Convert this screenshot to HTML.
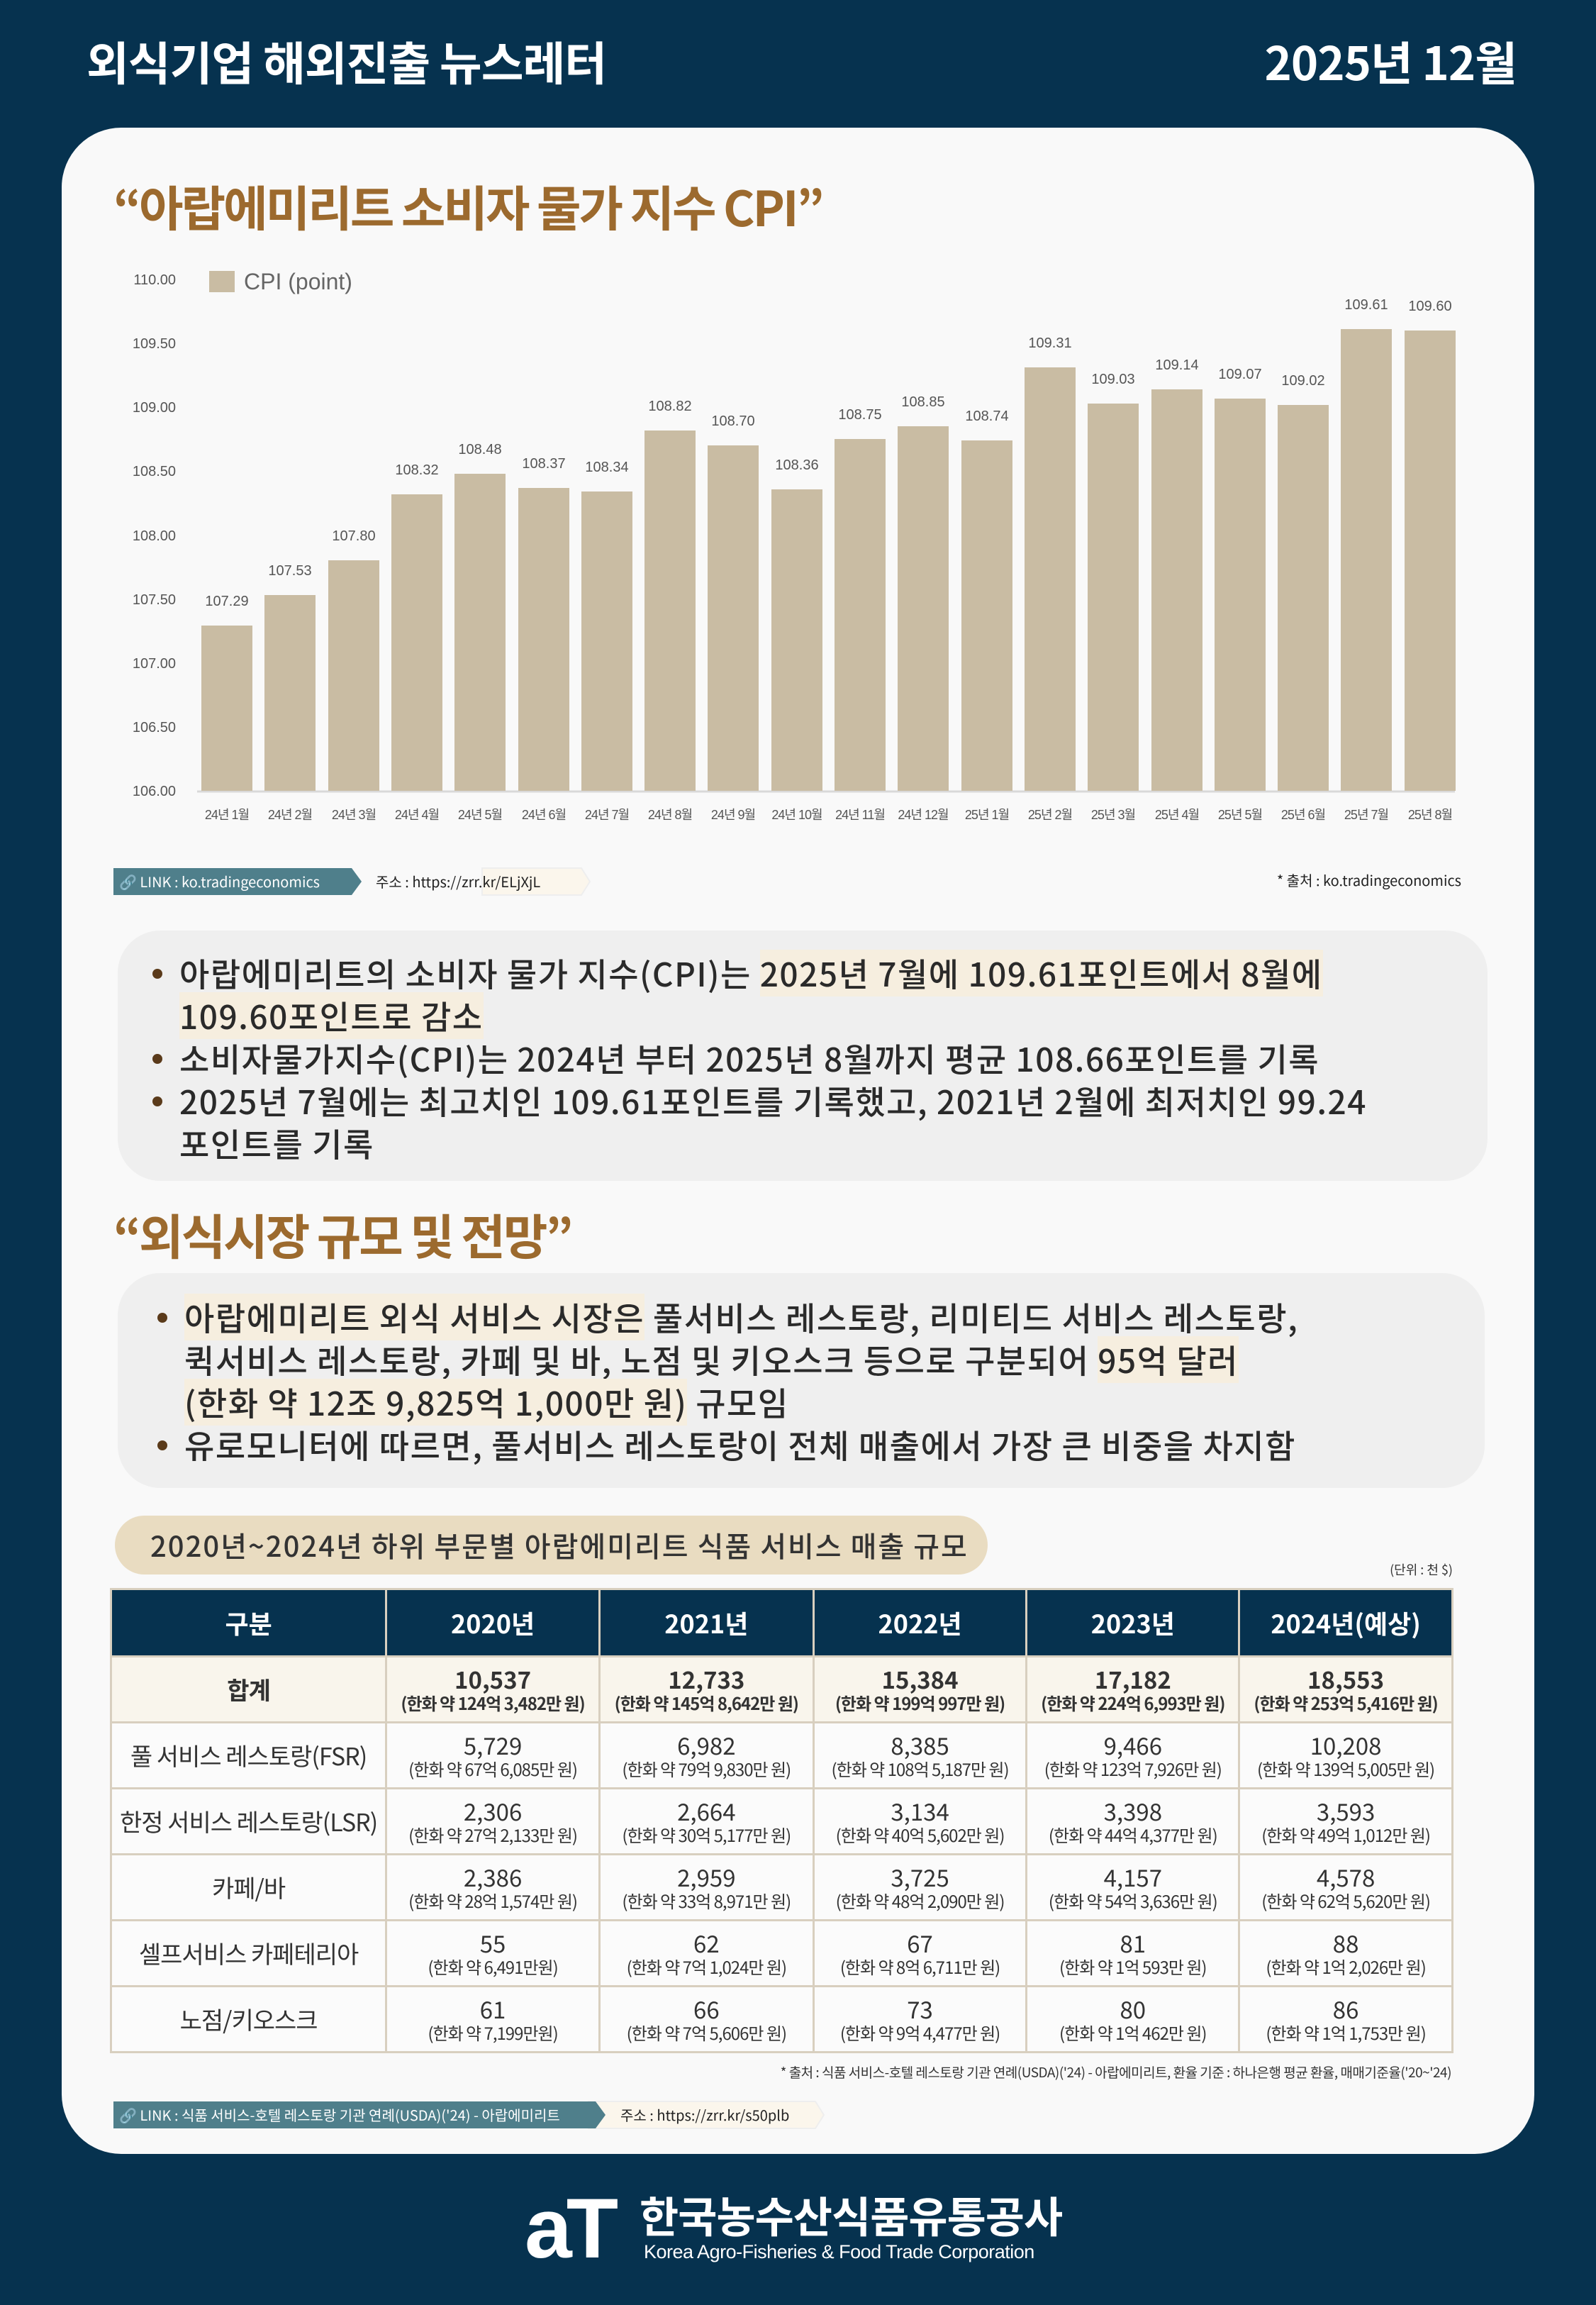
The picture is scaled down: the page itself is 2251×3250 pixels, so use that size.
<!DOCTYPE html>
<html><head><meta charset="utf-8">
<style>
*{margin:0;padding:0;box-sizing:border-box}
body{width:2251px;height:3250px;background:#06324f;font-family:"Liberation Sans","Noto Sans CJK KR",sans-serif;position:relative;overflow:hidden}
.abs{position:absolute}
.hdr{color:#fff;font-size:65px;font-weight:bold;top:38px;letter-spacing:-1px;font-family:"Noto Sans CJK KR",sans-serif}
.card{left:87px;top:180px;width:2077px;height:2857px;background:#f9f9f9;border-radius:84px}
.ttl{color:#9c6a2e;font-size:68px;font-weight:bold;font-family:"Noto Sans CJK KR",sans-serif;letter-spacing:-3px;white-space:nowrap}
.box{background:#efefef;border-radius:60px}
.bl{font-family:"Noto Sans CJK KR",sans-serif;font-size:46px;color:#2a2a2a;letter-spacing:1.5px;white-space:nowrap;line-height:60px;font-weight:500}
.bl .d{position:absolute;left:-38px;width:14px;height:14px;border-radius:50%;background:#5a3a1a;margin-top:24px}
.hl{background:#f6eedf}
.link{height:38px;font-size:20px;font-family:"Noto Sans CJK KR",sans-serif;white-space:nowrap;line-height:38px}
table{border-collapse:collapse;position:absolute;left:155px;top:2239px;width:1895px;font-family:"Noto Sans CJK KR",sans-serif;text-align:center}
td,th{border:3px solid #d8cfbf;padding:0}
th{background:#06324f;color:#fff;font-size:36px;height:95px;font-weight:bold;border-color:#d8cfbf}
td{height:93px;color:#333;font-size:33px;line-height:38px;background:#fbfbfb}
td small{display:block;font-size:24px;line-height:30px;letter-spacing:-1px;white-space:nowrap}
tr.sum td{background:#f9f5ec;font-weight:bold}
tr.sum td small{font-weight:bold}
td.lab{font-size:34px;letter-spacing:-1px}
</style></head><body>
<div class="abs hdr" style="left:122px">외식기업 해외진출 뉴스레터</div>
<div class="abs hdr" style="right:112px">2025년 12월</div>
<div class="abs card"></div>
<div class="abs ttl" style="left:160px;top:240px">“아랍에미리트 소비자 물가 지수 CPI”</div>

<svg class="abs" style="left:0;top:0" width="2251" height="1200" font-family="Liberation Sans, Noto Sans CJK KR, sans-serif">
<g font-size="20" fill="#555" text-anchor="end">
<text x="248" y="401">110.00</text><text x="248" y="491">109.50</text><text x="248" y="581">109.00</text><text x="248" y="671">108.50</text><text x="248" y="762">108.00</text><text x="248" y="852">107.50</text><text x="248" y="942">107.00</text><text x="248" y="1032">106.50</text><text x="248" y="1122">106.00</text>
</g>
<rect x="295" y="382" width="36" height="30" fill="#c9bca3"/>
<text x="344" y="408" font-size="32" fill="#666">CPI (point)</text>
<line x1="278" y1="1116" x2="2052" y2="1116" stroke="#d9d9d9" stroke-width="3"/>
<g fill="#c9bca3">
<rect x="284" y="882" width="72" height="233"/><rect x="373" y="839" width="72" height="276"/><rect x="463" y="790" width="72" height="325"/><rect x="552" y="697" width="72" height="418"/><rect x="641" y="668" width="72" height="447"/><rect x="731" y="688" width="72" height="427"/><rect x="820" y="693" width="72" height="422"/><rect x="909" y="607" width="72" height="508"/><rect x="998" y="628" width="72" height="487"/><rect x="1088" y="690" width="72" height="425"/><rect x="1177" y="619" width="72" height="496"/><rect x="1266" y="601" width="72" height="514"/><rect x="1356" y="621" width="72" height="494"/><rect x="1445" y="518" width="72" height="597"/><rect x="1534" y="569" width="72" height="546"/><rect x="1624" y="549" width="72" height="566"/><rect x="1713" y="562" width="72" height="553"/><rect x="1802" y="571" width="72" height="544"/><rect x="1891" y="464" width="72" height="651"/><rect x="1981" y="466" width="72" height="649"/>
</g>
<g font-size="20" fill="#555" text-anchor="middle">
<text x="320" y="854">107.29</text><text x="409" y="811">107.53</text><text x="499" y="762">107.80</text><text x="588" y="669">108.32</text><text x="677" y="640">108.48</text><text x="767" y="660">108.37</text><text x="856" y="665">108.34</text><text x="945" y="579">108.82</text><text x="1034" y="600">108.70</text><text x="1124" y="662">108.36</text><text x="1213" y="591">108.75</text><text x="1302" y="573">108.85</text><text x="1392" y="593">108.74</text><text x="1481" y="490">109.31</text><text x="1570" y="541">109.03</text><text x="1660" y="521">109.14</text><text x="1749" y="534">109.07</text><text x="1838" y="543">109.02</text><text x="1927" y="436">109.61</text><text x="2017" y="438">109.60</text>
</g>
<g font-size="18" fill="#555" text-anchor="middle" letter-spacing="-1">
<text x="320" y="1155">24년 1월</text><text x="409" y="1155">24년 2월</text><text x="499" y="1155">24년 3월</text><text x="588" y="1155">24년 4월</text><text x="677" y="1155">24년 5월</text><text x="767" y="1155">24년 6월</text><text x="856" y="1155">24년 7월</text><text x="945" y="1155">24년 8월</text><text x="1034" y="1155">24년 9월</text><text x="1124" y="1155">24년 10월</text><text x="1213" y="1155">24년 11월</text><text x="1302" y="1155">24년 12월</text><text x="1392" y="1155">25년 1월</text><text x="1481" y="1155">25년 2월</text><text x="1570" y="1155">25년 3월</text><text x="1660" y="1155">25년 4월</text><text x="1749" y="1155">25년 5월</text><text x="1838" y="1155">25년 6월</text><text x="1927" y="1155">25년 7월</text><text x="2017" y="1155">25년 8월</text>
</g>
</svg>

<svg class="abs" style="left:160px;top:1222px" width="680" height="42">
<polygon points="520,2 660,2 672,21 660,40 520,40" fill="#fbf6ec" stroke="#eee" stroke-width="2"/>
<polygon points="0,2 336,2 350,21 336,40 0,40" fill="#4f7f8b"/>
</svg>
<div class="abs link" style="left:168px;top:1224px;color:#fff">🔗 LINK : ko.tradingeconomics</div>
<div class="abs link" style="left:530px;top:1224px;color:#222">주소 : https://zrr.kr/ELjXjL</div>
<div class="abs link" style="right:190px;top:1222px;color:#222">* 출처 : ko.tradingeconomics</div>

<div class="abs box" style="left:166px;top:1312px;width:1932px;height:353px"></div>
<div class="abs bl" style="left:253px;top:1342px">
<div style="position:relative"><span class="d"></span>아랍에미리트의 소비자 물가 지수(CPI)는 <span class="hl">2025년 7월에 109.61포인트에서 8월에</span></div>
<div><span class="hl">109.60포인트로 감소</span></div>
<div style="position:relative"><span class="d"></span>소비자물가지수(CPI)는 2024년 부터 2025년 8월까지 평균 108.66포인트를 기록</div>
<div style="position:relative"><span class="d"></span>2025년 7월에는 최고치인 109.61포인트를 기록했고, 2021년 2월에 최저치인 99.24</div>
<div>포인트를 기록</div>
</div>

<div class="abs ttl" style="left:160px;top:1690px">“외식시장 규모 및 전망”</div>
<div class="abs box" style="left:166px;top:1795px;width:1928px;height:303px"></div>
<div class="abs bl" style="left:260px;top:1827px">
<div style="position:relative"><span class="d"></span><span class="hl">아랍에미리트 외식 서비스 시장은</span> 풀서비스 레스토랑, 리미티드 서비스 레스토랑,</div>
<div>퀵서비스 레스토랑, 카페 및 바, 노점 및 키오스크 등으로 구분되어 <span class="hl">95억 달러</span></div>
<div><span class="hl">(한화 약 12조 9,825억 1,000만 원)</span> 규모임</div>
<div style="position:relative"><span class="d"></span>유로모니터에 따르면, 풀서비스 레스토랑이 전체 매출에서 가장 큰 비중을 차지함</div>
</div>

<div class="abs" style="left:162px;top:2137px;width:1231px;height:83px;background:#e9dcc1;border-radius:42px;font-family:'Noto Sans CJK KR',sans-serif;font-size:40px;color:#333;line-height:83px;padding-left:50px;letter-spacing:2px;white-space:nowrap;font-weight:500">2020년~2024년 하위 부문별 아랍에미리트 식품 서비스 매출 규모</div>
<div class="abs" style="right:202px;top:2200px;font-size:18px;color:#333;font-family:'Noto Sans CJK KR',sans-serif">(단위 : 천 $)</div>

<table>
<colgroup><col style="width:390px"><col style="width:301px"><col style="width:302px"><col style="width:301px"><col style="width:300px"><col style="width:301px"></colgroup>
<tr><th>구분</th><th>2020년</th><th>2021년</th><th>2022년</th><th>2023년</th><th>2024년(예상)</th></tr>
<tr class="sum"><td class="lab" style="font-weight:bold">합계</td><td>10,537<small>(한화 약 124억 3,482만 원)</small></td><td>12,733<small>(한화 약 145억 8,642만 원)</small></td><td>15,384<small>(한화 약 199억 997만 원)</small></td><td>17,182<small>(한화 약 224억 6,993만 원)</small></td><td>18,553<small>(한화 약 253억 5,416만 원)</small></td></tr>
<tr><td class="lab">풀 서비스 레스토랑(FSR)</td><td>5,729<small>(한화 약 67억 6,085만 원)</small></td><td>6,982<small>(한화 약 79억 9,830만 원)</small></td><td>8,385<small>(한화 약 108억 5,187만 원)</small></td><td>9,466<small>(한화 약 123억 7,926만 원)</small></td><td>10,208<small>(한화 약 139억 5,005만 원)</small></td></tr>
<tr><td class="lab">한정 서비스 레스토랑(LSR)</td><td>2,306<small>(한화 약 27억 2,133만 원)</small></td><td>2,664<small>(한화 약 30억 5,177만 원)</small></td><td>3,134<small>(한화 약 40억 5,602만 원)</small></td><td>3,398<small>(한화 약 44억 4,377만 원)</small></td><td>3,593<small>(한화 약 49억 1,012만 원)</small></td></tr>
<tr><td class="lab">카페/바</td><td>2,386<small>(한화 약 28억 1,574만 원)</small></td><td>2,959<small>(한화 약 33억 8,971만 원)</small></td><td>3,725<small>(한화 약 48억 2,090만 원)</small></td><td>4,157<small>(한화 약 54억 3,636만 원)</small></td><td>4,578<small>(한화 약 62억 5,620만 원)</small></td></tr>
<tr><td class="lab">셀프서비스 카페테리아</td><td>55<small>(한화 약 6,491만원)</small></td><td>62<small>(한화 약 7억 1,024만 원)</small></td><td>67<small>(한화 약 8억 6,711만 원)</small></td><td>81<small>(한화 약 1억 593만 원)</small></td><td>88<small>(한화 약 1억 2,026만 원)</small></td></tr>
<tr><td class="lab">노점/키오스크</td><td>61<small>(한화 약 7,199만원)</small></td><td>66<small>(한화 약 7억 5,606만 원)</small></td><td>73<small>(한화 약 9억 4,477만 원)</small></td><td>80<small>(한화 약 1억 462만 원)</small></td><td>86<small>(한화 약 1억 1,753만 원)</small></td></tr>
</table>

<div class="abs" style="right:204px;top:2908px;font-size:19px;color:#333;font-family:'Noto Sans CJK KR',sans-serif;white-space:nowrap;letter-spacing:-0.5px">* 출처 : 식품 서비스-호텔 레스토랑 기관 연례(USDA)('24) - 아랍에미리트, 환율 기준 : 하나은행 평균 환율, 매매기준율('20~'24)</div>

<svg class="abs" style="left:160px;top:2961px" width="1010" height="42">
<polygon points="670,2 990,2 1002,21 990,40 670,40" fill="#fbf6ec" stroke="#eee" stroke-width="2"/>
<polygon points="0,2 680,2 694,21 680,40 0,40" fill="#4f7f8b"/>
</svg>
<div class="abs link" style="left:168px;top:2963px;color:#fff">🔗 LINK : 식품 서비스-호텔 레스토랑 기관 연례(USDA)('24) - 아랍에미리트</div>
<div class="abs link" style="left:875px;top:2963px;color:#222">주소 : https://zrr.kr/s50plb</div>

<div class="abs" style="left:740px;top:3082px;color:#fff;font-family:'Liberation Sans',sans-serif;font-weight:bold;font-size:120px;line-height:120px;letter-spacing:-8px">aT</div>
<div class="abs" style="left:902px;top:3090px;color:#fff;font-family:'Noto Sans CJK KR',sans-serif;font-weight:bold;font-size:60px;line-height:66px;letter-spacing:-1px;white-space:nowrap">한국농수산식품유통공사</div>
<div class="abs" style="left:908px;top:3160px;color:#fff;font-family:'Liberation Sans',sans-serif;font-size:27px;white-space:nowrap;letter-spacing:-0.5px">Korea Agro-Fisheries &amp; Food Trade Corporation</div>
</body></html>
